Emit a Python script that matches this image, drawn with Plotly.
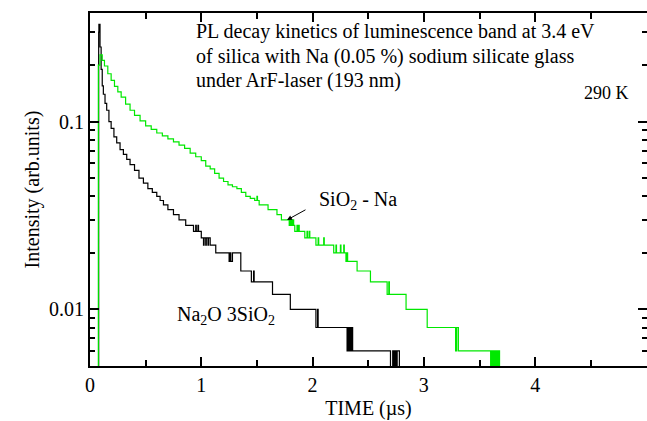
import plotly.graph_objects as go

# ---- data ----
# SiO2 - Na (green)
green_t = [0.0, 0.075, 0.09, 0.11, 0.13, 0.16, 0.19, 0.22, 0.25, 0.28, 0.32, 0.36, 0.40, 0.45,
           0.50, 0.55, 0.60, 0.65, 0.70, 0.75, 0.80, 0.85, 0.90, 0.95, 1.00, 1.04, 1.08, 1.12,
           1.16, 1.20, 1.24, 1.28, 1.32, 1.36, 1.40, 1.44, 1.48, 1.50, 1.505, 1.52, 1.56, 1.60,
           1.64, 1.68, 1.72, 1.76,
           1.79, 1.80, 1.805, 1.81, 1.815, 1.82, 1.83,
           1.84, 1.86, 1.865, 1.875, 1.88,
           1.93, 1.95, 1.955, 1.97, 1.975,
           2.03, 2.05, 2.055, 2.10, 2.105,
           2.19, 2.21, 2.215, 2.25, 2.255, 2.28, 2.285,
           2.30, 2.31, 2.315,
           2.40, 2.52, 2.67, 2.685, 2.69,
           2.84, 3.03,
           3.285, 3.295, 3.31,
           3.60, 3.61, 3.62, 3.63, 3.64, 3.65, 3.66, 3.67, 3.68, 5.0]
green_i = [0.003, 0.20, 0.227, 0.212, 0.198, 0.180, 0.166, 0.154, 0.144, 0.135, 0.124, 0.115, 0.108, 0.101,
           0.095, 0.091, 0.087, 0.084, 0.081, 0.078, 0.075, 0.072, 0.068, 0.065, 0.062, 0.058, 0.056, 0.053,
           0.050, 0.048, 0.046, 0.045, 0.044, 0.042, 0.040, 0.039, 0.038, 0.040, 0.038, 0.036, 0.036, 0.034,
           0.034, 0.032, 0.030, 0.030,
           0.028, 0.030, 0.028, 0.030, 0.028, 0.030, 0.028,
           0.026, 0.028, 0.026, 0.028, 0.026,
           0.024, 0.026, 0.024, 0.026, 0.024,
           0.022, 0.024, 0.022, 0.024, 0.022,
           0.020, 0.022, 0.020, 0.022, 0.020, 0.022, 0.020,
           0.018, 0.020, 0.018,
           0.016, 0.014, 0.012, 0.014, 0.012,
           0.010, 0.008,
           0.006, 0.008, 0.006,
           0.004, 0.006, 0.004, 0.006, 0.004, 0.006, 0.004, 0.006, 0.004, 0.004]

# Na2O 3SiO2 (black)
black_t = [0.0, 0.078, 0.08, 0.09, 0.10, 0.11, 0.12, 0.135, 0.15, 0.17, 0.19, 0.215, 0.24, 0.27,
           0.30, 0.33, 0.36, 0.40, 0.44, 0.48, 0.52, 0.56, 0.60, 0.63, 0.66, 0.70, 0.75, 0.80,
           0.86, 0.93, 0.95, 0.955, 0.97, 0.975,
           1.00, 1.02, 1.025, 1.04, 1.045, 1.06, 1.065, 1.08,
           1.13, 1.25, 1.26, 1.265, 1.28,
           1.355, 1.45, 1.47, 1.475, 1.49,
           1.64, 1.80,
           2.03, 2.045, 2.05,
           2.31, 2.32, 2.325, 2.335, 2.34, 2.35, 2.36,
           2.70, 2.72, 2.73, 2.74, 2.75, 2.76, 2.78, 5.0]
black_i = [0.003, 0.30, 0.33, 0.25, 0.19, 0.155, 0.14, 0.125, 0.115, 0.100, 0.092, 0.083, 0.077, 0.071,
           0.067, 0.063, 0.059, 0.055, 0.050, 0.047, 0.044, 0.042, 0.040, 0.038, 0.036, 0.034, 0.032, 0.030,
           0.028, 0.026, 0.028, 0.026, 0.028, 0.026,
           0.024, 0.022, 0.024, 0.022, 0.024, 0.022, 0.024, 0.022,
           0.020, 0.018, 0.020, 0.018, 0.020,
           0.016, 0.014, 0.016, 0.014, 0.014,
           0.012, 0.010,
           0.008, 0.010, 0.008,
           0.006, 0.008, 0.006, 0.008, 0.006, 0.008, 0.006,
           0.004, 0.006, 0.004, 0.006, 0.004, 0.006, 0.004, 0.004]

x_ticks = [0, 1, 2, 3, 4, 5]
x_minor = [0.5, 1.5, 2.5, 3.5, 4.5]
y_ticks = [0.01, 0.1]
y_tick_text = ["0.01", "0.1"]
y_minor = [k * 10.0 ** e for e in (-3, -2, -1) for k in range(2, 10)]

FONT = "Liberation Serif, Times New Roman, DejaVu Serif, serif"
L, R, T, B = 90, 647, 13, 366


def px(x):
    return (x - L) / (R - L)


def py(y):
    return (B - y) / (B - T)


fig = go.Figure()
fig.add_trace(go.Scatter(x=black_t, y=black_i, mode="lines", line=dict(color="black", width=1.2, shape="hv"),
                         showlegend=False))
fig.add_trace(go.Scatter(x=green_t, y=green_i, mode="lines", line=dict(color="#00e800", width=1.2, shape="hv"),
                         showlegend=False))

fig.update_layout(
    template="none",
    width=647, height=421,
    margin=dict(l=L, r=647 - R, t=T, b=421 - B),
    paper_bgcolor="white", plot_bgcolor="white",
    font=dict(family=FONT, size=20, color="black"),
    xaxis=dict(range=[0, 5.005], tickmode="array", tickvals=x_ticks, ticks="inside", ticklen=9, tickwidth=1.5,
               tickcolor="black", showline=True, linewidth=2, linecolor="black", mirror="ticks",
               showgrid=False, zeroline=False, tickfont=dict(family=FONT, size=20),
               minor=dict(tickmode="array", tickvals=x_minor, ticks="inside", ticklen=6, tickwidth=1.5,
                          tickcolor="black", showgrid=False),
               title=dict(text="TIME (µs)", font=dict(family=FONT, size=20), standoff=6)),
    yaxis=dict(type="log", range=[-2.302, -0.421], tickmode="array", tickvals=y_ticks, ticktext=y_tick_text,
               ticks="inside", ticklen=9, tickwidth=1.5, tickcolor="black", showline=True, linewidth=2,
               linecolor="black", mirror="ticks", showgrid=False, zeroline=False,
               tickfont=dict(family=FONT, size=20),
               minor=dict(tickmode="array", tickvals=y_minor, ticks="inside", ticklen=5, tickwidth=1.5,
                          tickcolor="black", showgrid=False),
               title=dict(text="Intensity (arb.units)", font=dict(family=FONT, size=20), standoff=4)),
)

ann = [
    ("PL decay kinetics of luminescence band at 3.4 eV", 194, 32, 20),
    ("of silica with Na (0.05 %) sodium silicate glass", 194, 57, 20),
    ("under ArF-laser (193 nm)", 194, 80, 20),
    ("290 K", 582, 93, 18),
    ("SiO<sub>2</sub> - Na", 317, 200, 20),
    ("Na<sub>2</sub>O 3SiO<sub>2</sub>", 175, 315, 20),
]
for text, x, y, s in ann:
    fig.add_annotation(text=text, xref="paper", yref="paper", x=px(x), y=py(y), xanchor="left",
                       yanchor="middle", showarrow=False, font=dict(family=FONT, size=s, color="black"))

# arrow pointing to the green curve
fig.add_annotation(x=1.77, y=-1.524, xref="x", yref="y", ax=20, ay=-11, axref="pixel", ayref="pixel",
                   text="", showarrow=True, arrowhead=2, arrowsize=1, arrowwidth=1, arrowcolor="black")

fig.write_html("out.html")
